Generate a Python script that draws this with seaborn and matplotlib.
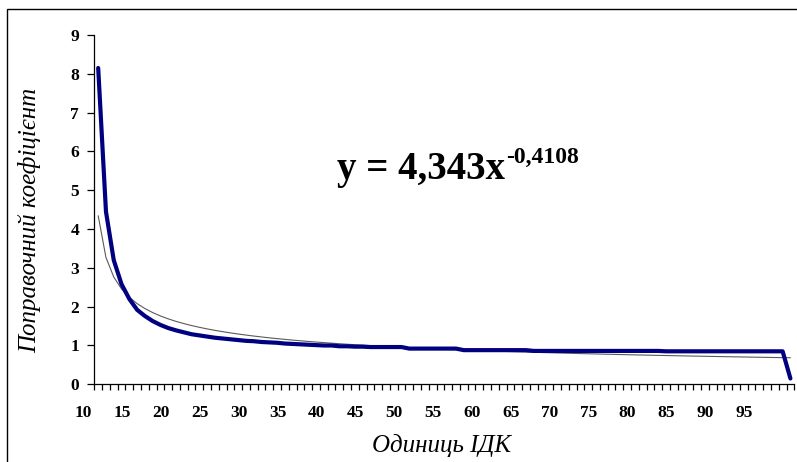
import matplotlib

matplotlib.use("Agg")

import matplotlib.pyplot as plt
import numpy as np
import pandas as pd
import seaborn as sns
from matplotlib.patches import Rectangle


# correction coefficient per IDK unit (90 categories)
coefficients = [
    8.15, 4.45, 3.20, 2.58, 2.20, 1.92, 1.76, 1.63, 1.53, 1.45,
    1.39, 1.34, 1.29, 1.26, 1.23, 1.20, 1.18, 1.16, 1.14, 1.12,
    1.11, 1.09, 1.08, 1.07, 1.05, 1.04, 1.03, 1.02, 1.01, 1.00,
    1.00, 0.98, 0.98, 0.97, 0.97, 0.96, 0.96, 0.96, 0.96, 0.96,
    0.92, 0.92, 0.92, 0.92, 0.92, 0.92, 0.92,
    0.88, 0.88, 0.88, 0.88, 0.88, 0.88, 0.88, 0.88, 0.88,
    0.86, 0.86, 0.86, 0.86, 0.86, 0.86, 0.86, 0.86, 0.86, 0.86,
    0.86, 0.86, 0.86, 0.86, 0.86, 0.86, 0.86,
    0.85, 0.85, 0.85, 0.85, 0.85, 0.85, 0.85, 0.85, 0.85, 0.85,
    0.85, 0.85, 0.85, 0.85, 0.85, 0.85,
    0.15,
]

# power trendline shown on the chart: y = 4,343 x^-0,4108
TREND_A = 4.343
TREND_B = -0.4108

x_tick_labels = [10, 15, 20, 25, 30, 35, 40, 45, 50, 55, 60, 65, 70, 75, 80, 85, 90, 95]
y_ticks = [0, 1, 2, 3, 4, 5, 6, 7, 8, 9]

# category labels sit about one unit left of the category index
LABEL_SHIFT = 10.95

W, H = 797, 462


def main():
    sns.set_style("ticks")
    plt.rcParams["font.family"] = ["Liberation Serif", "DejaVu Serif"]
    plt.rcParams["axes.linewidth"] = 0.9
    plt.rcParams["axes.edgecolor"] = "black"
    plt.rcParams["text.color"] = "black"
    plt.rcParams["ytick.labelcolor"] = "black"

    units = np.arange(1, len(coefficients) + 1)
    df = pd.DataFrame(
        {
            "unit": units,
            "coef": coefficients,
            "trend": TREND_A * units.astype(float) ** TREND_B,
        }
    )

    fig = plt.figure(figsize=(W / 100, H / 100), dpi=100)
    ax = fig.add_axes([94.3 / W, 77.7 / H, 700 / W, 349.3 / H])

    sns.lineplot(data=df, x="unit", y="trend", color="#5a5a5a", linewidth=0.8, ax=ax)
    sns.lineplot(data=df, x="unit", y="coef", color="#000080", linewidth=3.0, ax=ax)
    for line in ax.lines:
        line.set_solid_joinstyle("round")

    ax.set_xlim(0.5, len(coefficients) + 0.5)
    ax.set_ylim(0, 9)
    ax.set_xlabel("")
    ax.set_ylabel("")
    sns.despine(ax=ax)

    ax.set_yticks(y_ticks)
    ax.set_yticklabels([str(v) for v in y_ticks], fontweight="bold", color="black")
    ax.tick_params(axis="y", direction="out", length=5, width=0.9, pad=6,
                   labelsize=12.5, color="black")

    ax.set_xticks(np.arange(0.5, len(coefficients) + 1))
    ax.set_xticklabels([])
    ax.tick_params(axis="x", direction="out", length=4, width=0.9, color="black")

    for value in x_tick_labels:
        ax.text(value - LABEL_SHIFT, -28.7 / 349.3, str(value),
                transform=ax.get_xaxis_transform(), ha="center", va="center",
                fontsize=12.5, fontweight="bold", color="black", clip_on=False)

    fig.text(441.7 / W, (H - 451.7) / H, "Одиниць ІДК", fontsize=18,
             style="italic", ha="center", va="baseline", color="black")
    fig.text(30 / W, (H - 220.5) / H, "Поправочний коефіцієнт", fontsize=18,
             style="italic", rotation=90, ha="center", va="center", color="black")

    eq = fig.text(336.7 / W, (H - 179.3) / H, "y = 4,343x", fontsize=28,
                  fontweight="bold", va="baseline", color="black")
    fig.canvas.draw()
    bb = eq.get_window_extent(fig.canvas.get_renderer())
    fig.text((bb.x1 + 1) / W, (H - 163.3) / H, "-0,4108", fontsize=17,
             fontweight="bold", va="baseline", color="black")

    fig.patches.append(
        Rectangle((6.7 / W, -0.2), 2.0, (H - 9.3) / H + 0.2, fill=False,
                  edgecolor="black", linewidth=1.0, transform=fig.transFigure,
                  figure=fig)
    )

    fig.savefig("out.png", dpi=100)
    plt.close(fig)


if __name__ == "__main__":
    main()
